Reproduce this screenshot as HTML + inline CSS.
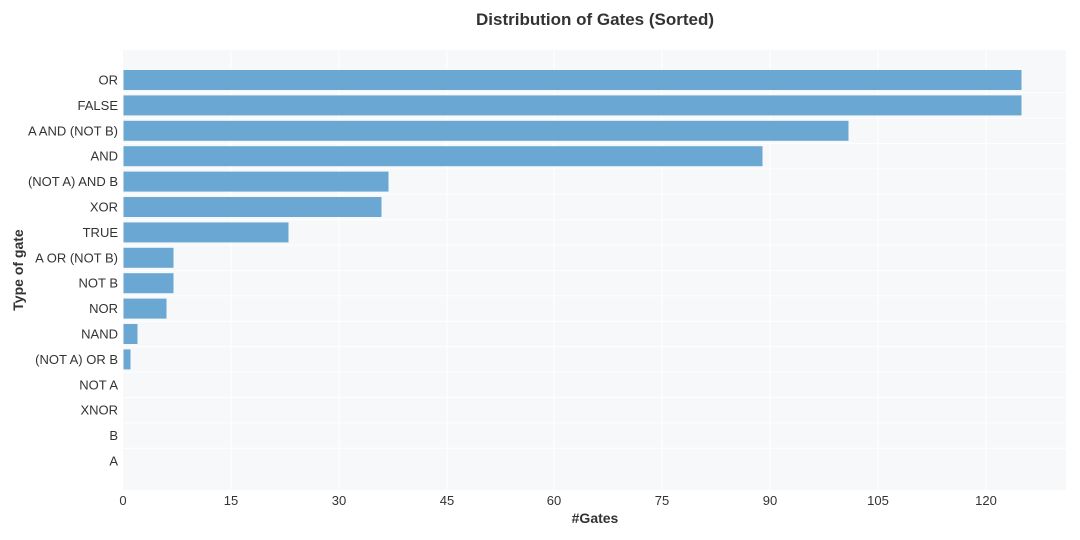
<!DOCTYPE html>
<html><head><meta charset="utf-8"><style>body{margin:0;background:#fff}svg{display:block}</style></head><body>
<svg width="1080" height="540" xmlns="http://www.w3.org/2000/svg" font-family="Liberation Sans, sans-serif">
<rect x="123" y="50" width="943" height="440" fill="#f7f8fa"/>
<g stroke="#ffffff" stroke-width="1">
<line x1="231" y1="50" x2="231" y2="490"/><line x1="339" y1="50" x2="339" y2="490"/><line x1="447" y1="50" x2="447" y2="490"/><line x1="554" y1="50" x2="554" y2="490"/><line x1="662" y1="50" x2="662" y2="490"/><line x1="770" y1="50" x2="770" y2="490"/><line x1="878" y1="50" x2="878" y2="490"/><line x1="986" y1="50" x2="986" y2="490"/>
<line x1="123" x2="1066" y1="92.7" y2="92.7"/><line x1="123" x2="1066" y1="118.1" y2="118.1"/><line x1="123" x2="1066" y1="143.5" y2="143.5"/><line x1="123" x2="1066" y1="168.9" y2="168.9"/><line x1="123" x2="1066" y1="194.3" y2="194.3"/><line x1="123" x2="1066" y1="219.7" y2="219.7"/><line x1="123" x2="1066" y1="245.1" y2="245.1"/><line x1="123" x2="1066" y1="270.5" y2="270.5"/><line x1="123" x2="1066" y1="295.9" y2="295.9"/><line x1="123" x2="1066" y1="321.3" y2="321.3"/><line x1="123" x2="1066" y1="346.7" y2="346.7"/><line x1="123" x2="1066" y1="372.1" y2="372.1"/><line x1="123" x2="1066" y1="397.5" y2="397.5"/><line x1="123" x2="1066" y1="422.9" y2="422.9"/><line x1="123" x2="1066" y1="448.3" y2="448.3"/>
</g>
<g fill="#6aa8d3">
<rect x="123.5" y="70" width="898" height="20"/>
<rect x="123.5" y="95.4" width="898" height="20"/>
<rect x="123.5" y="120.8" width="725" height="20"/>
<rect x="123.5" y="146.2" width="639" height="20"/>
<rect x="123.5" y="171.6" width="265" height="20"/>
<rect x="123.5" y="197" width="258" height="20"/>
<rect x="123.5" y="222.4" width="165" height="20"/>
<rect x="123.5" y="247.8" width="50" height="20"/>
<rect x="123.5" y="273.2" width="50" height="20"/>
<rect x="123.5" y="298.6" width="43" height="20"/>
<rect x="123.5" y="324" width="14" height="20"/>
<rect x="123.5" y="349.4" width="7" height="20"/>
</g>
<g font-size="13" fill="#333" text-anchor="end">
<text x="118" y="84.5">OR</text>
<text x="118" y="109.9">FALSE</text>
<text x="118" y="135.3">A AND (NOT B)</text>
<text x="118" y="160.7">AND</text>
<text x="118" y="186.1">(NOT A) AND B</text>
<text x="118" y="211.5">XOR</text>
<text x="118" y="236.9">TRUE</text>
<text x="118" y="262.3">A OR (NOT B)</text>
<text x="118" y="287.7">NOT B</text>
<text x="118" y="313.1">NOR</text>
<text x="118" y="338.5">NAND</text>
<text x="118" y="363.9">(NOT A) OR B</text>
<text x="118" y="389.3">NOT A</text>
<text x="118" y="414.7">XNOR</text>
<text x="118" y="440.1">B</text>
<text x="118" y="465.5">A</text>
</g>
<text x="595" y="25" text-anchor="middle" font-size="17" font-weight="bold" fill="#333">Distribution of Gates (Sorted)</text>
<text x="595" y="523" text-anchor="middle" font-size="14" font-weight="bold" fill="#333">#Gates</text>
<text transform="translate(23,270) rotate(-90)" text-anchor="middle" font-size="14" font-weight="bold" fill="#333">Type of gate</text>
<g font-size="13" fill="#333" text-anchor="middle">
<text x="123" y="505">0</text><text x="231" y="505">15</text><text x="339" y="505">30</text><text x="447" y="505">45</text><text x="554" y="505">60</text><text x="662" y="505">75</text><text x="770" y="505">90</text><text x="878" y="505">105</text><text x="986" y="505">120</text>
</g>
</svg>
</body></html>
